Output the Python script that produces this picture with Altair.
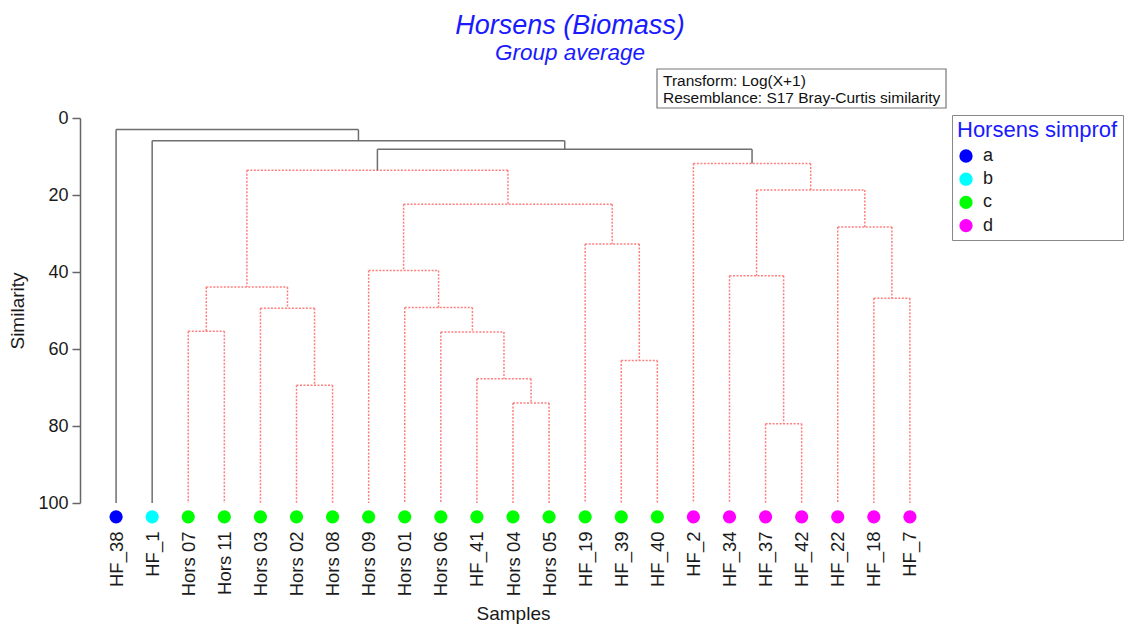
import json
import altair as alt
import pandas as pd

# ---- data ----
samples = ["HF_38", "HF_1", "Hors 07", "Hors 11", "Hors 03", "Hors 02", "Hors 08",
           "Hors 09", "Hors 01", "Hors 06", "HF_41", "Hors 04", "Hors 05", "HF_19",
           "HF_39", "HF_40", "HF_2", "HF_34", "HF_37", "HF_42", "HF_22", "HF_18", "HF_7"]
simprof = ["a", "b", "c", "c", "c", "c", "c", "c", "c", "c", "c", "c", "c", "c",
           "c", "c", "d", "d", "d", "d", "d", "d", "d"]
simprof_groups = ["a", "b", "c", "d"]
simprof_colors = ["#0000ff", "#00ffff", "#00ff00", "#ff00ff"]

# merges: node ids < 23 are samples, node 23+k is merge k
merge_left = [11, 10, 9, 8, 7, 14, 13, 27, 2, 5, 4, 31, 34, 18, 17, 21, 20, 37, 16, 35, 1, 0]
merge_right = [12, 23, 24, 25, 26, 15, 28, 29, 3, 6, 32, 33, 30, 19, 36, 22, 38, 39, 40, 41, 42, 43]
merge_similarity = [74.0, 67.7, 55.6, 49.2, 39.6, 63.0, 32.7, 22.4, 55.4, 69.4, 49.4, 43.9,
                    13.6, 79.4, 41.0, 46.8, 28.3, 18.7, 11.8, 8.1, 5.9, 3.0]
merge_style = ["ns", "ns", "ns", "ns", "ns", "ns", "ns", "ns", "ns", "ns", "ns", "ns",
               "ns", "ns", "ns", "ns", "ns", "ns", "ns", "sig", "sig", "sig"]

y_ticks = [0, 20, 40, 60, 80, 100]
leaf_level = 100
dot_level = 103.6

# ---- build segment table ----
pos = {i: float(i) for i in range(len(samples))}
lev = {i: float(leaf_level) for i in range(len(samples))}
rows = []
for k, (l, r, h, s) in enumerate(zip(merge_left, merge_right, merge_similarity, merge_style)):
    node = len(samples) + k
    rows.append(dict(x=pos[l], x2=pos[r], y=h, y2=h, style=s))
    rows.append(dict(x=pos[l], x2=pos[l], y=h, y2=lev[l], style=s))
    rows.append(dict(x=pos[r], x2=pos[r], y=h, y2=lev[r], style=s))
    pos[node] = (pos[l] + pos[r]) / 2
    lev[node] = h
seg = pd.DataFrame(rows)
leaves = pd.DataFrame({"idx": list(range(len(samples))), "sample": samples, "group": simprof})

FONT = "Liberation Sans"
label_expr = json.dumps(samples) + "[datum.value]"

xs = alt.Scale(domain=[-1, 23], nice=False, zero=False)
ys = alt.Scale(domain=[0, 100], reverse=True, nice=False, zero=False)

x_axis = alt.Axis(values=list(range(len(samples))), labelExpr=label_expr, labelAngle=270,
                  domain=False, ticks=False, tickSize=0, grid=False, labelPadding=28,
                  labelFontSize=18.5, labelColor="#1a1a1a", labelOverlap=False, labelFlush=False,
                  title="Samples", titleFontSize=19, titleFontWeight="normal",
                  titleColor="#1a1a1a", titlePadding=9)
y_axis = alt.Axis(values=y_ticks, grid=False, domainColor="#666666", domainWidth=1.5,
                  tickColor="#666666", tickWidth=1.5, tickSize=8, labelFontSize=18,
                  labelColor="#1a1a1a", labelPadding=4, title="Similarity", titleFontSize=19,
                  titleFontWeight="normal", titleColor="#1a1a1a", titlePadding=10)

X = lambda f: alt.X(f, type="quantitative", scale=xs, axis=x_axis)
Y = lambda f: alt.Y(f, type="quantitative", scale=ys, axis=y_axis)

red = alt.Chart(seg).transform_filter(alt.datum.style == "ns").mark_rule(
    color="#ff7f7f", strokeWidth=1.5, strokeDash=[2, 1.5]
).encode(x=X("x"), x2="x2", y=Y("y"), y2="y2")

black = alt.Chart(seg).transform_filter(alt.datum.style == "sig").mark_rule(
    color="#6e6e6e", strokeWidth=1.5
).encode(x=X("x"), x2="x2", y=Y("y"), y2="y2")

dots = alt.Chart(leaves).mark_circle(size=177, opacity=1).encode(
    x=X("idx"),
    y=alt.Y(datum=dot_level, type="quantitative", scale=ys, axis=y_axis),
    color=alt.Color("group:N",
                    scale=alt.Scale(domain=simprof_groups, range=simprof_colors),
                    legend=alt.Legend(title="Horsens simprof", orient="none",
                                      legendX=872, legendY=-3, padding=5,
                                      strokeColor="#888888", fillColor="white",
                                      titleFontSize=22, titleColor="#1a1aff",
                                      titleFontWeight="normal", titlePadding=5,
                                      labelFontSize=18, labelColor="#1a1a1a",
                                      labelOffset=8, symbolSize=177, symbolType="circle",
                                      symbolStrokeWidth=0, symbolOpacity=1, rowPadding=5.2)),
)

note = pd.DataFrame({"txt": ["Transform: Log(X+1)\nResemblance: S17 Bray-Curtis similarity"]})
box = alt.Chart(note).mark_rect(fill="white", stroke="#777777", strokeWidth=1.2).encode(
    x=alt.value(577), x2=alt.value(866), y=alt.value(-49), y2=alt.value(-10))
box_text = alt.Chart(note).mark_text(align="left", baseline="alphabetic", fontSize=15.5,
                                     lineBreak="\n", lineHeight=16.7, color="#111111",
                                     font=FONT).encode(
    x=alt.value(583), y=alt.value(-32), text="txt:N")

chart = alt.layer(red, black, dots, box, box_text).properties(
    width=866, height=385,
    title=alt.TitleParams("Horsens (Biomass)", subtitle="Group average", anchor="middle",
                          dx=57, fontSize=27, fontStyle="italic", fontWeight="normal",
                          color="#1a1aff", subtitleFontSize=22.5, subtitleFontStyle="italic",
                          subtitleColor="#1a1aff", subtitlePadding=2, offset=3, font=FONT,
                          subtitleFont=FONT),
    autosize=alt.AutoSizeParams(type="none"),
    padding={"left": 72, "top": 110, "right": 179, "bottom": 122},
).configure(font=FONT).configure_view(stroke=None)

chart.save("out.html", embed_options={"renderer": "svg", "actions": False})
